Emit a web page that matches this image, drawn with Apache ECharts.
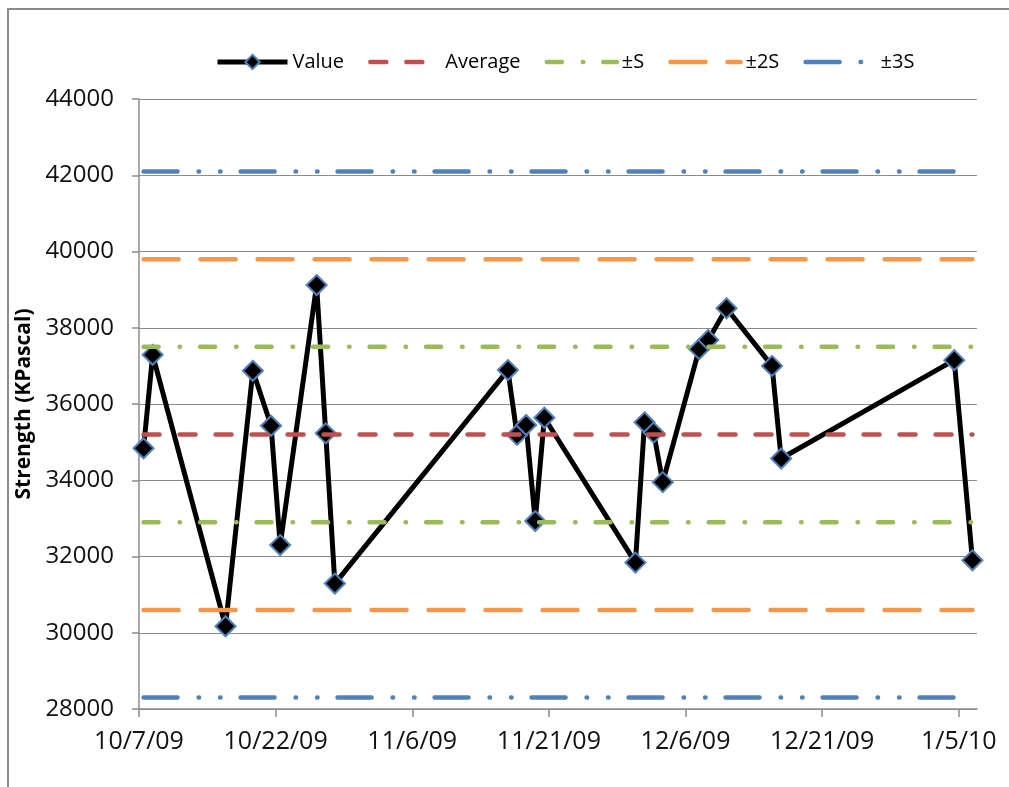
<!DOCTYPE html>
<html>
<head>
<meta charset="utf-8">
<script src="https://cdn.jsdelivr.net/npm/echarts@6/dist/echarts.min.js"></script>
<style>
  html, body { margin: 0; padding: 0; background: #fff; }
  #chart { width: 1009px; height: 787px; }
</style>
</head>
<body>
<div id="chart"></div>
<script>
// measurement dates and strength values (KPascal)
const dates = [
  '2009-10-07', '2009-10-08', '2009-10-16', '2009-10-19', '2009-10-21',
  '2009-10-22', '2009-10-26', '2009-10-27', '2009-10-28', '2009-11-16',
  '2009-11-17', '2009-11-18', '2009-11-19', '2009-11-20', '2009-11-30',
  '2009-12-01', '2009-12-02', '2009-12-03', '2009-12-07', '2009-12-08',
  '2009-12-10', '2009-12-15', '2009-12-16', '2010-01-04', '2010-01-06'
]
const values = [
  34840, 37290, 30170, 36870, 35430,
  32300, 39120, 35230, 31290, 36890,
  35190, 35450, 32930, 35640, 31840,
  35520, 35250, 33950, 37440, 37680,
  38510, 37000, 34570, 37150, 31900
]
// control limits
const average = 35200
const sigma = 2300

// date axis
const axisStart = '2009-10-07'
const axisEnd = '2010-01-07'
const tickDates = ['2009-10-07', '2009-10-22', '2009-11-06', '2009-11-21', '2009-12-06', '2009-12-21', '2010-01-05']
const tickLabels = ['10/7/09', '10/22/09', '11/6/09', '11/21/09', '12/6/09', '12/21/09', '1/5/10']

const DAY = 86400000
const toDay = d => (Date.parse(d) - Date.parse(axisStart)) / DAY
// excel date axis puts each point in the middle of its day
const toX = d => toDay(d) + 0.5

const tickDays = tickDates.map(toDay)
const valueData = dates.map((d, i) => [toX(d), values[i]])
const firstX = toX(dates[0])
const lastX = toX(dates[dates.length - 1])
const flat = v => [[firstX, v], [lastX, v]]

const font = 'Open Sans'

const styles = {
  'Average': { color: '#c0504d', dash: [16, 20] },
  '±S': { color: '#9bbb59', dash: [15, 21, 0.5, 20] },
  '±2S': { color: '#f79646', dash: [35, 22] },
  '±3S': { color: '#4f81bd', dash: [34, 21, 0.5, 21, 0.5, 20] }
}

function limitSeries(name, level) {
  const s = styles[name]
  return {
    name: name,
    type: 'line',
    data: flat(level),
    symbol: 'none',
    silent: true,
    z: 3,
    itemStyle: { color: s.color },
    lineStyle: { color: s.color, width: 4.5, type: s.dash, cap: 'round' }
  }
}

// legend entries for the limit lines: line only, no marker
function legendItem(name) {
  const s = styles[name]
  return {
    name: name,
    itemStyle: { opacity: 0 },
    lineStyle: { color: s.color, width: 4.5, type: s.dash, cap: 'round' }
  }
}

const chart = echarts.init(document.getElementById('chart'), null, { renderer: 'canvas' })

chart.setOption({
  backgroundColor: '#fff',
  animation: false,
  graphic: [{
    type: 'rect',
    shape: { x: 8, y: 9, width: 1020, height: 800 },
    style: { fill: 'none', stroke: '#8c8c8c', lineWidth: 2 },
    silent: true
  }],
  legend: {
    top: 47,
    left: 210,
    itemWidth: 70,
    itemHeight: 18,
    itemGap: 24,
    selectedMode: false,
    textStyle: { fontFamily: font, fontSize: 20, color: '#000' },
    data: [
      { name: 'Value', lineStyle: { color: '#000', width: 5 } },
      legendItem('Average'),
      legendItem('±S'),
      legendItem('±2S'),
      legendItem('±3S')
    ]
  },
  grid: { left: 139, right: 32, top: 99, bottom: 78 },
  xAxis: {
    type: 'value',
    min: toDay(axisStart),
    max: toDay(axisEnd),
    axisLine: { show: true, lineStyle: { color: '#8c8c8c', width: 1.5 } },
    axisTick: { show: true, inside: false, length: 8, customValues: tickDays, lineStyle: { color: '#8c8c8c', width: 1.5 } },
    axisLabel: {
      customValues: tickDays,
      margin: 20,
      fontFamily: font,
      fontSize: 25,
      color: '#111',
      formatter: v => tickLabels[tickDays.indexOf(v)] || ''
    },
    splitLine: { show: false }
  },
  yAxis: {
    type: 'value',
    min: 28000,
    max: 44000,
    interval: 2000,
    name: 'Strength (KPascal)',
    nameLocation: 'middle',
    nameGap: 94,
    nameTextStyle: { fontFamily: font, fontSize: 21, fontWeight: 'bold', color: '#000' },
    axisLine: { show: true, lineStyle: { color: '#8c8c8c', width: 1.5 } },
    axisTick: { show: true, inside: false, length: 7, lineStyle: { color: '#8c8c8c', width: 1.5 } },
    axisLabel: { margin: 25, fontFamily: font, fontSize: 24, color: '#111', formatter: v => String(v) },
    splitLine: { show: true, lineStyle: { color: '#8c8c8c', width: 1.2 } }
  },
  series: [
    {
      name: 'Value',
      type: 'line',
      data: valueData,
      symbol: 'diamond',
      symbolSize: 20,
      z: 2,
      lineStyle: { color: '#000', width: 5 },
      itemStyle: { color: '#000', borderColor: '#4f81bd', borderWidth: 2 }
    },
    limitSeries('Average', average),
    limitSeries('±S', average + sigma),
    limitSeries('±S', average - sigma),
    limitSeries('±2S', average + 2 * sigma),
    limitSeries('±2S', average - 2 * sigma),
    limitSeries('±3S', average + 3 * sigma),
    limitSeries('±3S', average - 3 * sigma)
  ]
})
</script>
</body>
</html>
